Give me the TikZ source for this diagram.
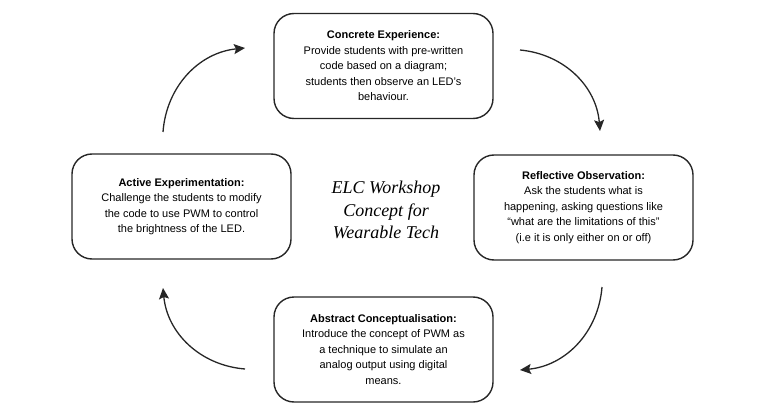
\documentclass[tikz,border=0pt]{standalone}
\usepackage{fontspec}
\newfontfamily\stagefont{Liberation Sans}
\newfontfamily\titlefont{Liberation Serif}
\usetikzlibrary{arrows.meta}
\tikzset{
	stage/.style={draw=black!85, line width=1.4pt, rounded corners=20pt, minimum width=219pt, minimum height=105pt, align=center, font=\stagefont\fontsize{11}{15.5}\selectfont},
	cycle/.style={line width=1.3pt, black!85, -{Stealth[length=11pt,width=10pt,inset=2pt]}}
}
\begin{document}
\begin{tikzpicture}[x=1pt,y=-1pt]
			\useasboundingbox (0,0) rectangle (768,417);
			\pgfmathsetmacro{\cx}{383.5}
			\pgfmathsetmacro{\dx}{200}
			\node[stage] (concrete) at (\cx,66) {\textbf{Concrete Experience:}\\Provide students with pre-written\\code based on a diagram;\\students then observe an LED’s\\behaviour.};
			\node[stage] (reflective) at (\cx+\dx,207.5) {\textbf{Reflective Observation:}\\Ask the students what is\\happening, asking questions like\\“what are the limitations of this”\\(i.e it is only either on or off)};
			\node[stage] (abstract) at (\cx,349.5) {\textbf{Abstract Conceptualisation:}\\Introduce the concept of PWM as\\a technique to simulate an\\analog output using digital\\means.};
			\node[stage] (active) at (\cx-\dx-2,206.5) {\textbf{Active Experimentation:}\\Challenge the students to modify\\the code to use PWM to control\\the brightness of the LED.};
			\node[align=center, font=\titlefont\itshape\fontsize{18}{22.5}\selectfont] (title) at (386,210) {ELC Workshop\\Concept for\\Wearable Tech};
			% arrow ends
			\coordinate (c1a) at (520,50);
			\coordinate (c1b) at (600,131);
			\coordinate (c2a) at (602,287);
			\coordinate (c2b) at (520,370);
			\coordinate (c3a) at (245,369);
			\coordinate (c3b) at (163,288);
			\coordinate (c4a) at (163,132);
			\coordinate (c4b) at (245,48);
			\draw[cycle] (c1a) to[bend left=40] (c1b);
			\draw[cycle] (c2a) to[bend left=40] (c2b);
			\draw[cycle] (c3a) to[bend left=40] (c3b);
			\draw[cycle] (c4a) to[bend left=40] (c4b);
		\end{tikzpicture}
\end{document}
